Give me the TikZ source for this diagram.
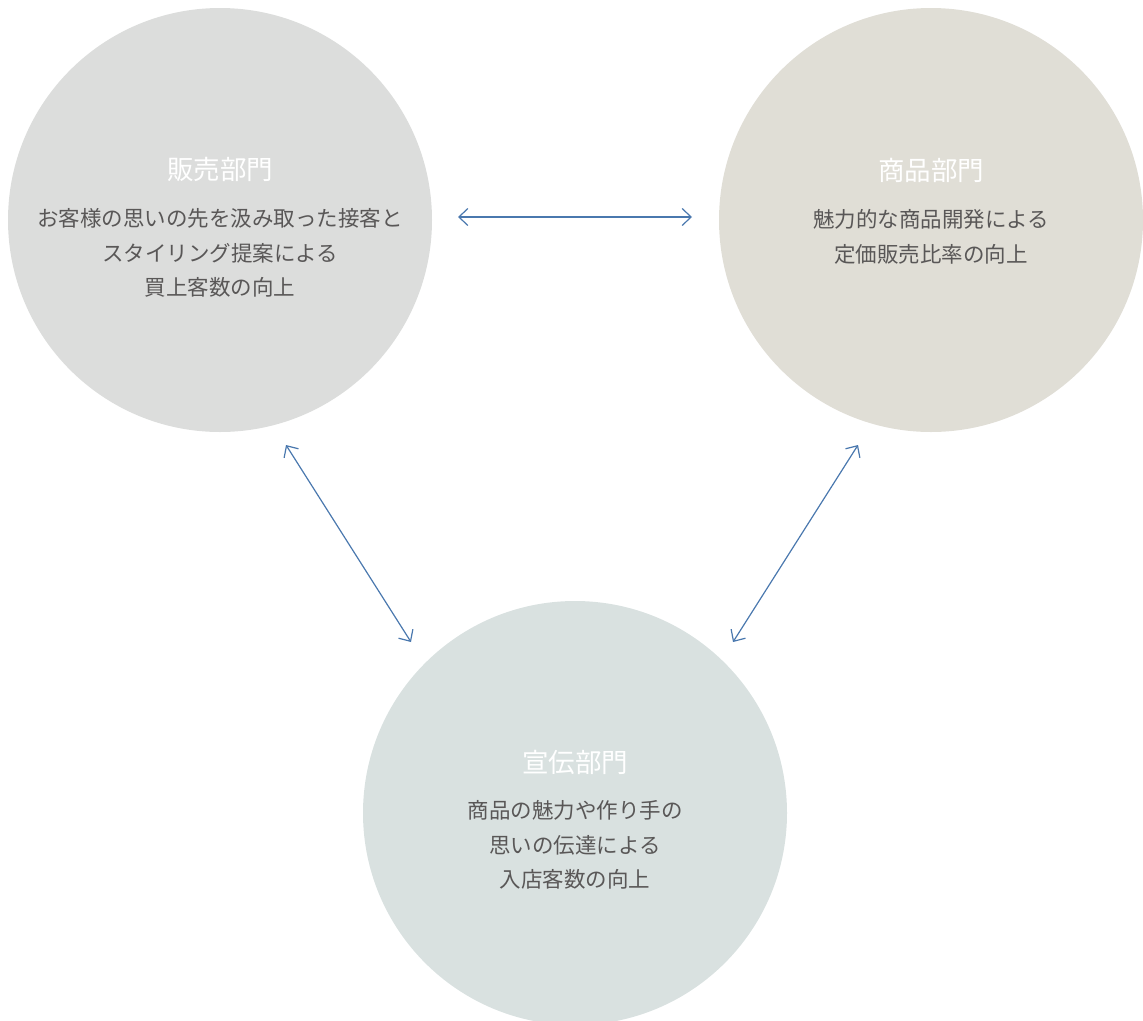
\documentclass[tikz,border=0pt]{standalone}
\usepackage{fontspec}
\setmainfont{Noto Sans CJK JP}
\usetikzlibrary{arrows.meta}
\definecolor{salesfill}{HTML}{DCDDDC}
\definecolor{prodfill}{HTML}{E0DED6}
\definecolor{adfill}{HTML}{D9E1E0}
\definecolor{bodytext}{HTML}{595757}
\definecolor{arrowblue}{HTML}{4A78AE}
\begin{document}
\begin{tikzpicture}[x=1pt,y=-1pt,
  dept/.style={circle, inner sep=0pt, minimum size=424pt, draw=none},
  titletext/.style={text=white, font=\fontsize{26.5}{30}\selectfont, inner sep=0pt},
  bodytxt/.style={text=bodytext, font=\fontsize{21.5}{34.5}\selectfont, align=center, inner sep=0pt},
  link/.style={draw=arrowblue, line width=1.2pt, {Straight Barb[length=9pt,width=17pt]}-{Straight Barb[length=9pt,width=17pt]}}
]
\useasboundingbox (0,0) rectangle (1143,1020);
\begin{scope}
\clip (0,0) rectangle (1143,1020);
\node[dept, fill=salesfill] (sales) at (220,220) {};
\node[dept, fill=prodfill] (prod) at (931,220) {};
\node[dept, fill=adfill] (ad) at (575,813) {};
\end{scope}

\node[titletext] (salesT) at (220,169) {販売部門};
\node[bodytxt] (salesB) at (220,253) {お客様の思いの先を汲み取った接客と\\スタイリング提案による\\買上客数の向上};

\node[titletext] (prodT) at (931,170) {商品部門};
\node[bodytxt] (prodB) at (931,237) {魅力的な商品開発による\\定価販売比率の向上};

\node[titletext] (adT) at (575,762) {宣伝部門};
\node[bodytxt] (adB) at (575,845) {商品の魅力や作り手の\\思いの伝達による\\入店客数の向上};

\coordinate (h1) at (458,217);
\coordinate (h2) at (692,217);
\coordinate (l1) at (286,445);
\coordinate (l2) at (411,642);
\coordinate (r1) at (858,445);
\coordinate (r2) at (733,642);
\draw[link] (h1) -- (h2);
\draw[link] (l1) -- (l2);
\draw[link] (r1) -- (r2);
\end{tikzpicture}
\end{document}
